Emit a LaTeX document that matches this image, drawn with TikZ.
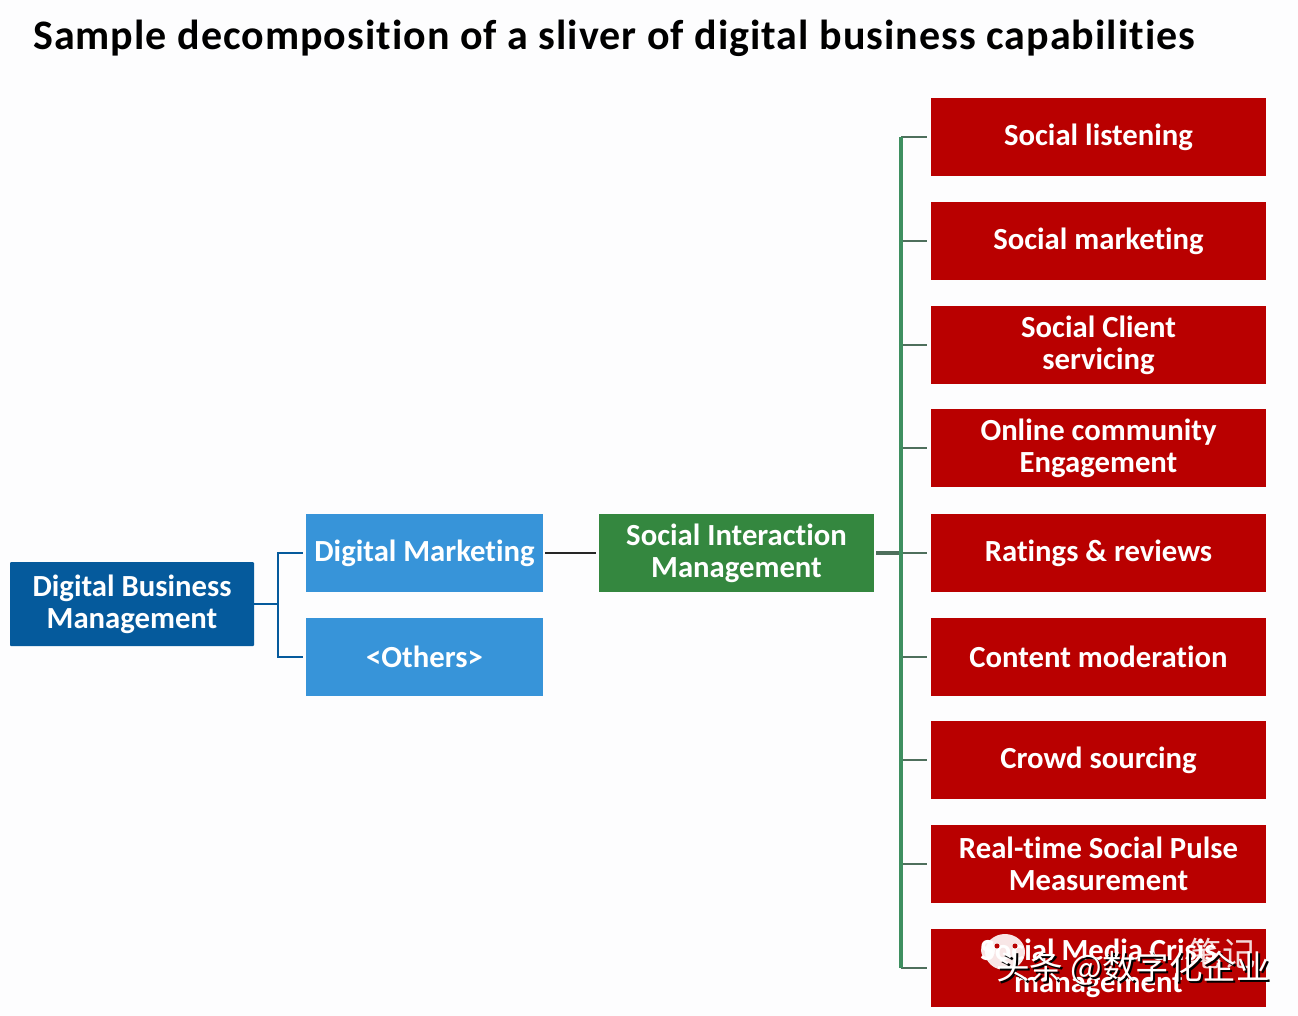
\documentclass[tikz,border=0pt]{standalone}
\usepackage{fontspec}
\setmainfont[Ligatures=NoCommon]{Carlito}
\newfontfamily\cjk{Noto Sans CJK SC}
\usetikzlibrary{positioning,calc}
\definecolor{darkblue}{HTML}{055A9C}
\definecolor{lightblue}{HTML}{3794D9}
\definecolor{midgreen}{HTML}{34873F}
\definecolor{boxred}{HTML}{B90000}
\definecolor{trunkgreen}{HTML}{3E8F60}
\definecolor{stubgrey}{HTML}{4E6F5C}
\definecolor{paper}{HTML}{FDFDFE}
\tikzset{
  capbox/.style={minimum height=78pt,inner sep=0pt,align=center,text=white,
    font=\fontsize{30.7}{32}\selectfont\bfseries},
  redbox/.style={capbox,fill=boxred,minimum width=335pt},
  bluebox/.style={capbox,fill=lightblue,minimum width=237pt},
  greenbox/.style={capbox,fill=midgreen,minimum width=275pt},
  rootbox/.style={capbox,fill=darkblue,minimum width=244pt,minimum height=84pt,rounded corners=1pt},
  blueline/.style={line width=2.6pt,color=darkblue},
  trunkline/.style={line width=3.2pt,color=trunkgreen},
  stubline/.style={line width=2.4pt,color=stubgrey},
  mark text/.style={text=white,font=\cjk\fontsize{33.5}{34}\selectfont,inner sep=0pt}
}
\begin{document}
\begin{tikzpicture}[x=1pt,y=-1pt]
        \useasboundingbox[fill=paper] (0,0) rectangle (1298,1016);
        % draw title
        \node[anchor=west,inner sep=0pt,font=\fontsize{42}{46}\selectfont\bfseries\addfontfeature{LetterSpace=2.4}] (title) at (33,38)
          {Sample decomposition of a sliver of digital business capabilities};
        % draw left boxes
        \node[rootbox] (dbm) at (132,604) {Digital Business\\Management};
        \node[bluebox] (dm) at (424.5,553) {Digital Marketing};
        \node[bluebox] (others) at (424.5,657) {<Others>};
        \node[greenbox] (sim) at (736.5,553) {Social Interaction\\Management};
        % draw red boxes
        \foreach \i/\y/\txt in {1/137/Social listening,
          2/241/Social marketing,
          3/345/Social Client\\servicing,
          4/448/Online community\\Engagement,
          5/553/Ratings \& reviews,
          6/657/Content moderation,
          7/760/Crowd sourcing,
          8/864/Real-time Social Pulse\\Measurement,
          9/968/Social Media Crisis\\management}
        \node[redbox] (red\i) at (1098.5,\y) {\txt};
        % draw connectors
        \coordinate (fork) at (278,604);
        \coordinate (bus) at (901,553);
        \draw[blueline] (dbm.east) -- (fork);
        \draw[blueline,shorten <=3pt] (dm.west) -| (fork);
        \draw[blueline,shorten <=3pt] (others.west) -| (fork);
        \draw[line width=2.4pt,black!85,shorten <=2pt,shorten >=3pt] (dm.east) -- (sim.west);
        \draw[line width=3.4pt,color=stubgrey,shorten <=2pt] (sim.east) -- (bus);
        \foreach \i in {1,...,9}
        \draw[stubline,shorten >=4pt] (bus |- red\i.west) -- (red\i.west);
        \draw[trunkline] (bus |- red1.west) -- (bus |- red9.west);
        % draw watermark
        \node[mark text,opacity=.85] (markb) at (1222,954) {笔记};
        \fill[white,opacity=.9] (1005,952) ellipse (20pt and 18pt);
        \fill[white,opacity=.9] (988,950) ellipse (7pt and 9pt);
        \fill[boxred] (997,946) circle (2.5pt) (1015,946) circle (2.5pt);
        \node[mark text,text=black] (marks) at (1135,970) {头条 @数字化企业};
        \node[mark text] (marka) at (1133,968) {头条 @数字化企业};
\end{tikzpicture}
\end{document}
